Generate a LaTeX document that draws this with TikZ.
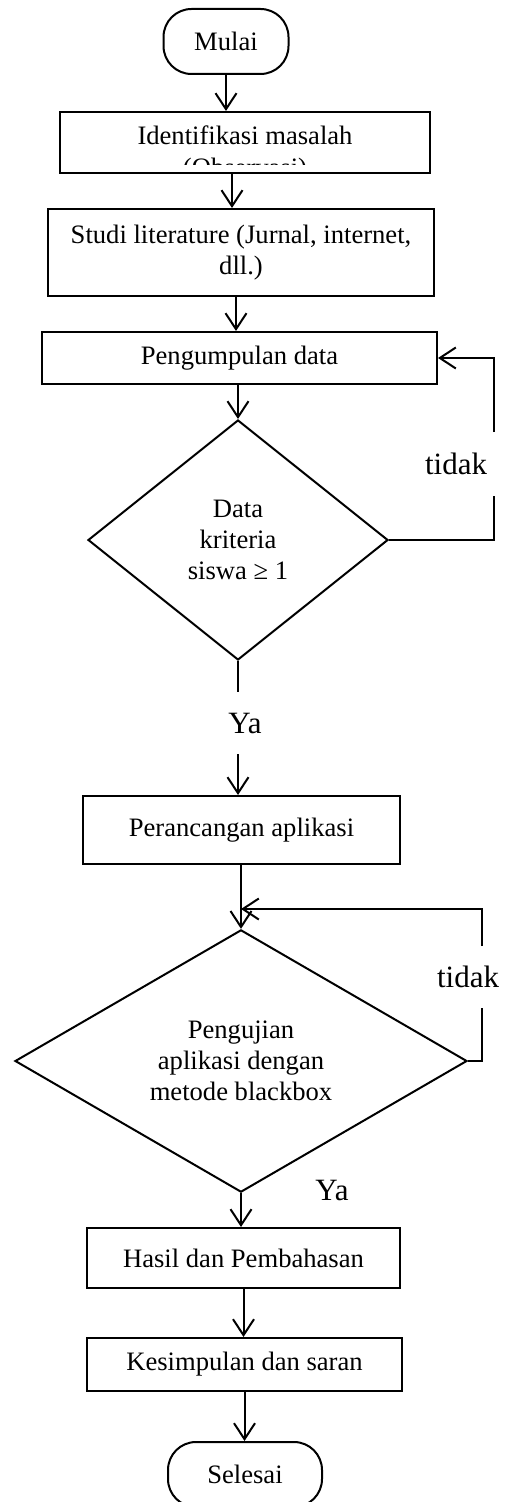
\documentclass[tikz,border=0pt]{standalone}
\usepackage{fontspec}
\setmainfont{Liberation Serif}
\usetikzlibrary{arrows.meta,shapes.geometric}

\begin{document}
\begin{tikzpicture}[x=0.5pt,y=-0.5pt,line width=1pt,
  >={Straight Barb[length=8pt,width=10.5pt]},
  box/.style={draw,rectangle,inner sep=0pt,align=center,font=\fontsize{13.3}{15.5}\selectfont},
  term/.style={box,rounded corners=14pt},
  cond/.style={draw,diamond,inner sep=0pt,align=center,font=\fontsize{13.3}{15.5}\selectfont},
  lbl/.style={inner sep=0pt,font=\fontsize{15.5}{18}\selectfont}]
\useasboundingbox (0,0) rectangle (506,1502);
\clip (0,0) rectangle (506,1502);
\node[term,minimum width=62.5pt,minimum height=32.5pt] (mulai) at (226,41.5) {Mulai};
\node[box,minimum width=185pt,minimum height=30.5pt] (ident) at (245,142.5) {};
\begin{scope}
\clip (ident.north west) rectangle ([yshift=4.5pt]ident.south east);
\node[inner sep=0pt,align=center,anchor=north,font=\fontsize{13.3}{16}\selectfont] (identtxt)
  at ([yshift=-7pt]ident.north) {Identifikasi masalah\\(Observasi)};
\end{scope}
\node[box,minimum width=193pt,minimum height=43.5pt] (studi) at (241,252.5) {Studi literature (Jurnal, internet,\\dll.)};
\node[box,minimum width=197.5pt,minimum height=26pt] (peng) at (239.5,358) {Pengumpulan data};
\node[cond,minimum width=150pt,minimum height=120pt] (dat) at (238,540) {Data\\kriteria\\siswa ≥ 1};
\node[lbl,minimum height=31pt] (tid1) at (456,464) {tidak};
\node[lbl,minimum height=30pt] (ya1) at (245,723) {Ya};
\node[box,minimum width=158.5pt,minimum height=34pt] (per) at (241.5,830) {Perancangan aplikasi};
\node[cond,minimum width=226pt,minimum height=117pt] (uji) at (241,1061) {Pengujian\\aplikasi dengan\\metode blackbox};
\node[lbl,minimum height=30pt] (tid2) at (468,977) {tidak};
\node[lbl] (ya2) at (332,1190) {Ya};
\node[box,minimum width=156.5pt,minimum height=30pt] (hasil) at (243.5,1258) {Hasil dan Pembahasan};
\node[box,minimum width=157.5pt,minimum height=26.5pt] (kes) at (244.5,1364.5) {Kesimpulan dan saran};
\node[term,minimum width=77pt,minimum height=32.5pt] (sel) at (245,1474.5) {Selesai};
\coordinate (r1) at (494,540);
\coordinate (r2) at (482,909);
\draw[->] (mulai) -- (mulai |- ident.north);
\draw[->] ([xshift=-6.5pt]ident.south) -- ([xshift=-6.5pt]ident.south |- studi.north);
\draw[->] ([xshift=-2.5pt]studi.south) -- ([xshift=-2.5pt]studi.south |- peng.north);
\draw[->] (peng.south -| dat.north) -- (dat.north);
\draw (dat.east) -- (r1) -- (r1 |- tid1.south);
\draw[->] (r1 |- tid1.north) -- (r1 |- peng.east) -- (peng.east);
\draw (dat.south) -- (dat.south |- ya1.north);
\draw[->] (dat.south |- ya1.south) -- (dat.south |- per.north);
\draw[->] (per.south -| uji.north) -- (uji.north);
\draw (uji.east) -- (uji.east -| r2) -- (r2 |- tid2.south);
\draw[->] (r2 |- tid2.north) -- (r2) -- (r2 -| uji.north);
\draw[->] (uji.south) -- (uji.south |- hasil.north);
\draw[->] (hasil.south) -- (hasil.south |- kes.north);
\draw[->] (kes.south) -- (kes.south |- sel.north);
\end{tikzpicture}
\end{document}
